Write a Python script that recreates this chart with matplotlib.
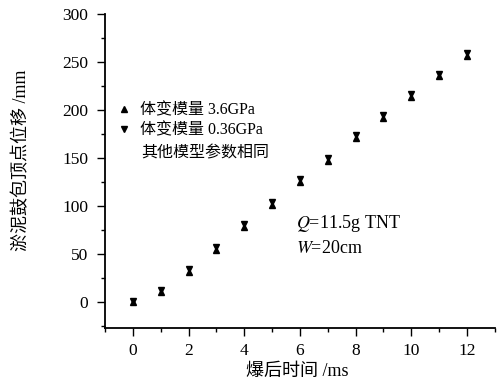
import matplotlib
matplotlib.use('Agg')
import matplotlib.pyplot as plt
from matplotlib.ticker import MultipleLocator

plt.rcParams['font.family'] = ['Liberation Serif', 'Noto Sans CJK SC']
plt.rcParams['mathtext.fontset'] = 'stix'

# 爆后时间 (ms)
t = [0, 1, 2, 3, 4, 5, 6, 7, 8, 9, 10, 11, 12]
# 体变模量 3.6GPa
d_36 = [0, 10, 31, 54, 78, 101, 125, 147, 171, 192, 214, 235, 256]
# 体变模量 0.36GPa
d_036 = [1, 13, 34, 57, 81, 104, 128, 150, 174, 195, 217, 238, 259]

fig = plt.figure(figsize=(5.01, 3.87), dpi=100)
ax = fig.add_axes([0.2096, 0.1525, 0.778, 0.8113])

ax.plot(t, d_36, linestyle='none', marker='^', color='black', markersize=5,
        label='体变模量 3.6GPa')
ax.plot(t, d_036, linestyle='none', marker='v', color='black', markersize=5,
        label='体变模量 0.36GPa')

ax.set_xlim(-1, 13)
ax.set_ylim(-27, 300)
ax.xaxis.set_major_locator(MultipleLocator(2))
ax.xaxis.set_minor_locator(MultipleLocator(1))
ax.yaxis.set_major_locator(MultipleLocator(50))
ax.yaxis.set_minor_locator(MultipleLocator(25))
ax.tick_params(which='both', direction='out', labelsize=12.5, width=1)
ax.tick_params(which='major', length=6)
ax.tick_params(which='minor', length=3)
ax.tick_params(axis='y', pad=6)
ax.tick_params(axis='x', pad=5)
ax.spines['top'].set_visible(False)
ax.spines['right'].set_visible(False)
ax.spines['left'].set_linewidth(1.3)
ax.spines['bottom'].set_linewidth(1.3)

ax.set_xlabel('爆后时间 /ms', fontsize=13)
ax.set_ylabel('淤泥鼓包顶点位移 /mm', fontsize=13)
ax.xaxis.set_label_coords(0.492, -0.11)
ax.yaxis.set_label_coords(-0.192, 0.535)

leg = ax.legend(loc='center left', bbox_to_anchor=(0.028, 0.662), frameon=False,
                fontsize=11.5, handletextpad=0.5, labelspacing=0.25,
                handlelength=1.0, borderaxespad=0, borderpad=0)
ax.text(0.094, 0.556, '其他模型参数相同', transform=ax.transAxes, fontsize=11.5,
        va='center', ha='left')

ax.text(5.85, 81.5, '$Q$=11.5g TNT', fontsize=13, va='center')
ax.text(5.85, 56, '$W$=20cm', fontsize=13, va='center')

fig.savefig('out.png', dpi=100)
